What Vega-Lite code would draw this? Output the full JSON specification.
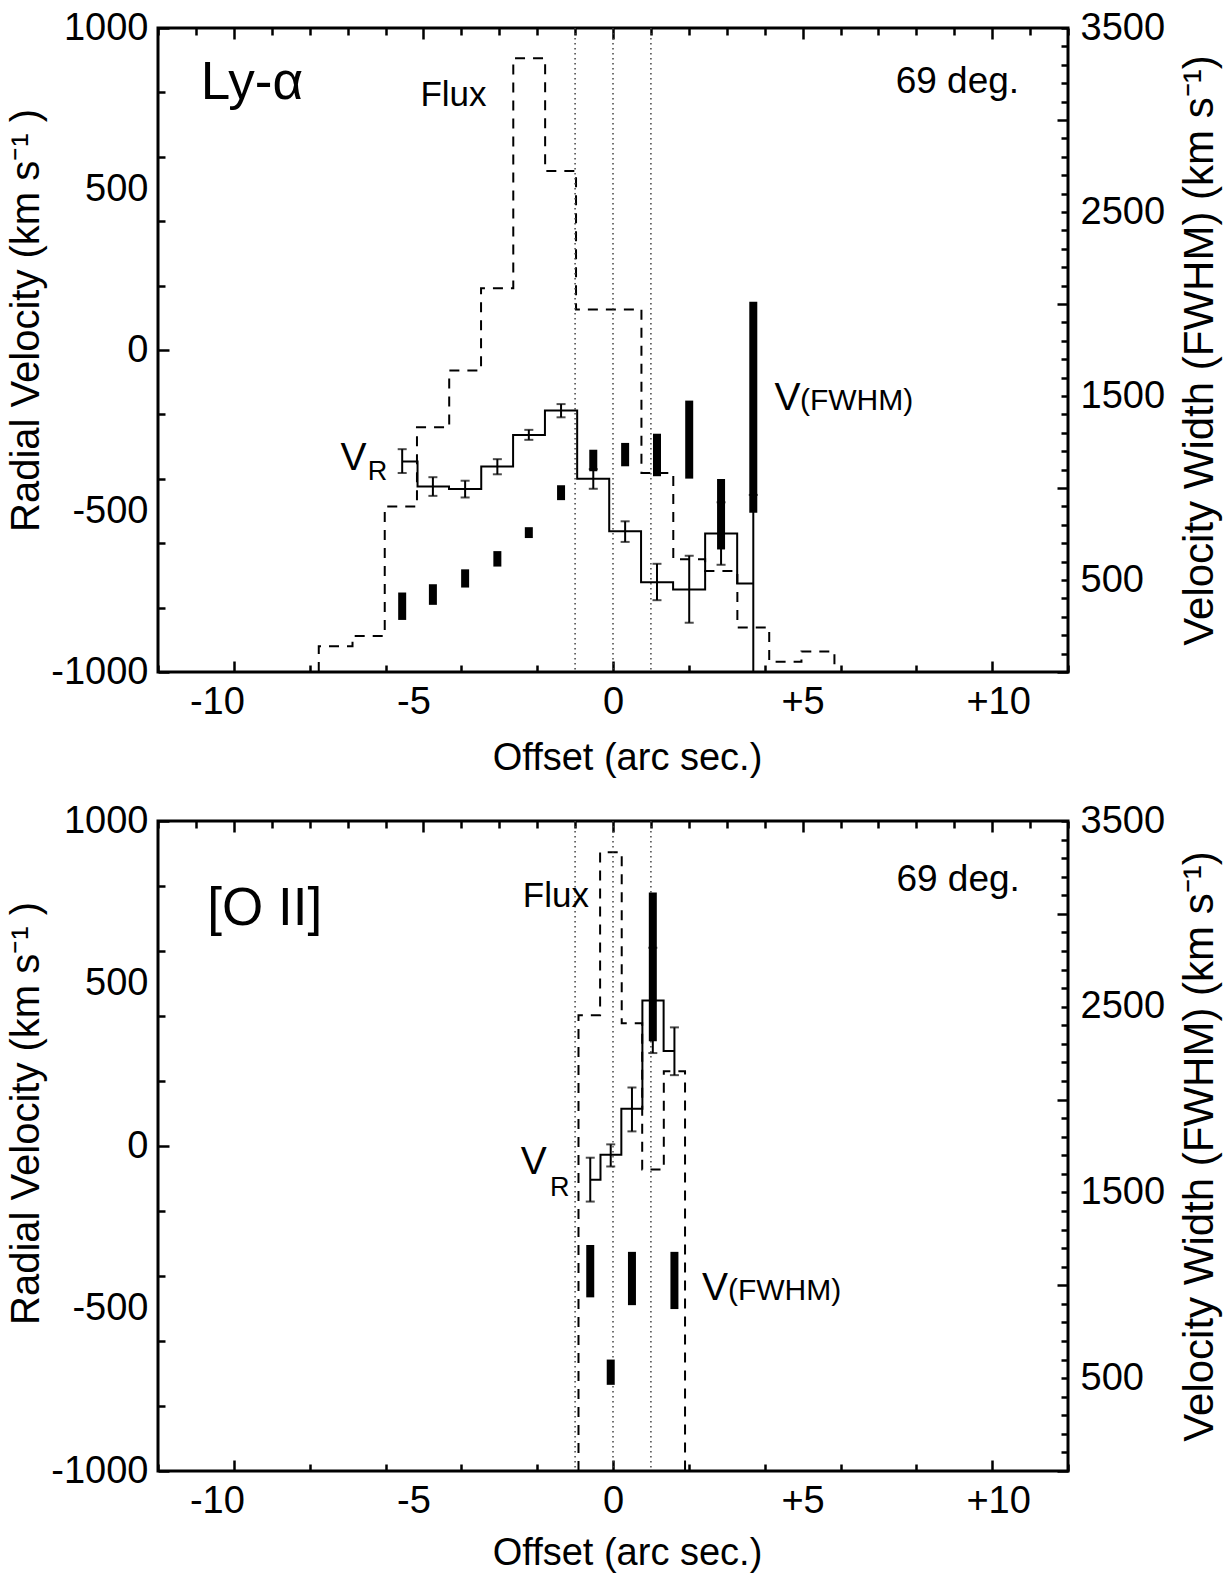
{
  "$schema": "https://vega.github.io/schema/vega-lite/v6.json",
  "background": "white",
  "padding": {"left": 5, "top": 7, "right": 5, "bottom": 3},
  "spacing": 21,
  "config": {
    "font": "Liberation Sans",
    "view": {"stroke": "black", "strokeWidth": 3},
    "axis": {
      "grid": false, "domain": false, "tickColor": "black", "tickWidth": 2.5,
      "labelColor": "black", "titleColor": "black",
      "labelFont": "Liberation Sans", "titleFont": "Liberation Sans",
      "labelFontSize": 38, "titleFontSize": 38, "titleFontWeight": "normal",
      "labelOverlap": false, "labelBound": false, "labelFlush": false
    },
    "text": {"color": "black", "font": "Liberation Sans", "baseline": "alphabetic", "align": "left"}
  },
  "datasets": {
    "dotted": [{"x": -1}, {"x": 0}, {"x": 1}],
    "lya_vr": [
      {"x": -5.56, "vr": -346, "lo": -382, "hi": -308},
      {"x": -4.75, "vr": -424, "lo": -453, "hi": -395},
      {"x": -3.90, "vr": -432, "lo": -458, "hi": -406},
      {"x": -3.05, "vr": -362, "lo": -386, "hi": -339},
      {"x": -2.22, "vr": -264, "lo": -279, "hi": -248},
      {"x": -1.37, "vr": -188, "lo": -209, "hi": -168},
      {"x": -0.52, "vr": -400, "lo": -431, "hi": -370},
      {"x": 0.32, "vr": -563, "lo": -596, "hi": -532},
      {"x": 1.16, "vr": -721, "lo": -777, "hi": -664},
      {"x": 2.01, "vr": -744, "lo": -847, "hi": -639},
      {"x": 2.85, "vr": -570, "lo": -667, "hi": -473},
      {"x": 3.70, "vr": -725, "lo": -1000, "hi": -450}
    ],
    "lya_fwhm": [
      {"x": -5.56, "lo": 283, "hi": 432},
      {"x": -4.75, "lo": 365, "hi": 477},
      {"x": -3.90, "lo": 459, "hi": 558},
      {"x": -3.05, "lo": 573, "hi": 657},
      {"x": -2.22, "lo": 728, "hi": 787},
      {"x": -1.37, "lo": 934, "hi": 1015},
      {"x": -0.52, "lo": 1091, "hi": 1208},
      {"x": 0.32, "lo": 1118, "hi": 1245},
      {"x": 1.16, "lo": 1064, "hi": 1295},
      {"x": 2.01, "lo": 1051, "hi": 1475},
      {"x": 2.85, "lo": 666, "hi": 1049},
      {"x": 3.70, "lo": 865, "hi": 2012}
    ],
    "lya_flux": [
      {"x": -7.76, "flux": 0},
      {"x": -7.76, "flux": 4.0},
      {"x": -6.87, "flux": 5.6},
      {"x": -6.02, "flux": 25.7},
      {"x": -5.17, "flux": 38.0},
      {"x": -4.32, "flux": 46.8},
      {"x": -3.48, "flux": 59.6},
      {"x": -2.63, "flux": 95.3},
      {"x": -1.79, "flux": 77.8},
      {"x": -0.975, "flux": 56.3},
      {"x": 0.75, "flux": 30.9},
      {"x": 1.59, "flux": 17.5},
      {"x": 2.43, "flux": 15.7},
      {"x": 3.28, "flux": 6.9},
      {"x": 4.12, "flux": 1.6},
      {"x": 4.97, "flux": 3.2},
      {"x": 5.84, "flux": 0}
    ],
    "lya_text": [
      {"x": -10.87, "y": 780, "text": "Ly-α", "role": "name"},
      {"x": 10.71, "y": 797, "text": "69 deg.", "role": "angle"},
      {"x": -5.08, "y": 757, "text": "Flux", "role": "flux"},
      {"x": -7.19, "y": -372, "text": "V", "role": "v"},
      {"x": -6.47, "y": -403, "text": "R", "role": "sub"},
      {"x": 4.26, "y": -185, "text": "V", "role": "v"},
      {"x": 4.93, "y": -185, "text": "(FWHM)", "role": "sub2"}
    ],
    "oii_vr": [
      {"x": -0.60, "vr": -104, "lo": -171, "hi": -36},
      {"x": -0.06, "vr": -27, "lo": -63, "hi": 5},
      {"x": 0.50, "vr": 115, "lo": 45, "hi": 180},
      {"x": 1.05, "vr": 448, "lo": 286, "hi": 610},
      {"x": 1.62, "vr": 292, "lo": 218, "hi": 365}
    ],
    "oii_fwhm": [
      {"x": -0.60, "lo": 935, "hi": 1217},
      {"x": -0.06, "lo": 464, "hi": 600},
      {"x": 0.50, "lo": 893, "hi": 1180},
      {"x": 1.05, "lo": 2314, "hi": 3115},
      {"x": 1.62, "lo": 872, "hi": 1180}
    ],
    "oii_flux": [
      {"x": -0.91, "flux": 0},
      {"x": -0.91, "flux": 70.1},
      {"x": -0.34, "flux": 95.2},
      {"x": 0.23, "flux": 68.9},
      {"x": 0.77, "flux": 46.4},
      {"x": 1.34, "flux": 61.5},
      {"x": 1.90, "flux": 0}
    ],
    "oii_text": [
      {"x": -10.7, "y": 681, "text": "[O II]", "role": "name"},
      {"x": 10.73, "y": 784, "text": "69 deg.", "role": "angle"},
      {"x": -2.38, "y": 734, "text": "Flux", "role": "flux"},
      {"x": -2.43, "y": -87, "text": "V", "role": "v"},
      {"x": -1.66, "y": -155, "text": "R", "role": "sub"},
      {"x": 2.35, "y": -475, "text": "V", "role": "v"},
      {"x": 3.03, "y": -475, "text": "(FWHM)", "role": "sub2"}
    ]
  },
  "vconcat": [
    {
      "width": 910, "height": 644,
      "resolve": {"scale": {"y": "independent"}, "axis": {"x": "independent", "y": "independent"}},
      "layer": [
        {
          "data": {"name": "lya_flux"},
          "mark": {"type": "line", "interpolate": "step-after", "color": "black", "strokeWidth": 2, "strokeDash": [10, 8]},
          "encoding": {
            "x": {"field": "x", "type": "quantitative", "scale": {"domain": [-12, 12], "nice": false, "zero": false}, "axis": null},
            "y": {"field": "flux", "type": "quantitative", "scale": {"domain": [0, 100], "nice": false}, "axis": null},
            "order": {"value": null}
          }
        },
        {
          "layer": [
            {
              "data": {"name": "dotted"},
              "mark": {"type": "rule", "color": "#444444", "strokeWidth": 1.5, "strokeDash": [1.5, 3.5]},
              "encoding": {
                "x": {"field": "x", "type": "quantitative", "scale": {"domain": [-12, 12], "nice": false, "zero": false},
                  "axis": {"orient": "bottom", "title": null, "labels": false,
                    "values": [-12,-11,-10,-9,-8,-7,-6,-5,-4,-3,-2,-1,0,1,2,3,4,5,6,7,8,9,10,11,12],
                    "tickSize": {"condition": {"test": "datum.value % 5 === 0", "value": -11}, "value": -7}}}
              }
            },
            {
              "data": {"name": "lya_vr"},
              "mark": {"type": "line", "interpolate": "step", "color": "black", "strokeWidth": 2},
              "encoding": {
                "x": {"field": "x", "type": "quantitative"},
                "y": {"field": "vr", "type": "quantitative", "scale": {"domain": [-1000, 1000], "nice": false, "zero": false},
                  "axis": {"orient": "left", "title": null, "labels": false,
                    "values": [-1000,-900,-800,-700,-600,-500,-400,-300,-200,-100,0,100,200,300,400,500,600,700,800,900,1000],
                    "tickSize": {"condition": {"test": "datum.value % 500 === 0", "value": -11}, "value": -7}}}
              }
            },
            {
              "data": {"name": "lya_vr"},
              "mark": {"type": "rule", "color": "black", "strokeWidth": 2},
              "encoding": {"x": {"field": "x", "type": "quantitative"}, "y": {"field": "lo", "type": "quantitative"}, "y2": {"field": "hi"}}
            },
            {
              "data": {"name": "lya_vr"},
              "mark": {"type": "tick", "orient": "horizontal", "size": 9, "thickness": 2, "color": "black"},
              "encoding": {"x": {"field": "x", "type": "quantitative"}, "y": {"field": "lo", "type": "quantitative"}}
            },
            {
              "data": {"name": "lya_vr"},
              "mark": {"type": "tick", "orient": "horizontal", "size": 9, "thickness": 2, "color": "black"},
              "encoding": {"x": {"field": "x", "type": "quantitative"}, "y": {"field": "hi", "type": "quantitative"}}
            },
            {
              "data": {"name": "lya_text"}, "transform": [{"filter": "datum.role === 'name'"}],
              "mark": {"type": "text", "fontSize": 53},
              "encoding": {"x": {"field": "x", "type": "quantitative"}, "y": {"field": "y", "type": "quantitative"}, "text": {"field": "text", "type": "nominal"}}
            },
            {
              "data": {"name": "lya_text"}, "transform": [{"filter": "datum.role === 'flux'"}],
              "mark": {"type": "text", "fontSize": 35},
              "encoding": {"x": {"field": "x", "type": "quantitative"}, "y": {"field": "y", "type": "quantitative"}, "text": {"field": "text", "type": "nominal"}}
            },
            {
              "data": {"name": "lya_text"}, "transform": [{"filter": "datum.role === 'v'"}],
              "mark": {"type": "text", "fontSize": 39},
              "encoding": {"x": {"field": "x", "type": "quantitative"}, "y": {"field": "y", "type": "quantitative"}, "text": {"field": "text", "type": "nominal"}}
            },
            {
              "data": {"name": "lya_text"}, "transform": [{"filter": "datum.role === 'sub'"}],
              "mark": {"type": "text", "fontSize": 27},
              "encoding": {"x": {"field": "x", "type": "quantitative"}, "y": {"field": "y", "type": "quantitative"}, "text": {"field": "text", "type": "nominal"}}
            },
            {
              "data": {"name": "lya_text"}, "transform": [{"filter": "datum.role === 'sub2'"}],
              "mark": {"type": "text", "fontSize": 30},
              "encoding": {"x": {"field": "x", "type": "quantitative"}, "y": {"field": "y", "type": "quantitative"}, "text": {"field": "text", "type": "nominal"}}
            },
            {
              "data": {"name": "lya_text"}, "transform": [{"filter": "datum.role === 'angle'"}],
              "mark": {"type": "text", "align": "right", "fontSize": 37},
              "encoding": {"x": {"field": "x", "type": "quantitative"}, "y": {"field": "y", "type": "quantitative"}, "text": {"field": "text", "type": "nominal"}}
            }
          ]
        },
        {
          "data": {"name": "lya_fwhm"},
          "mark": {"type": "rule", "color": "black", "strokeWidth": 8, "strokeCap": "butt"},
          "encoding": {
            "x": {"field": "x", "type": "quantitative", "scale": {"domain": [-12, 12], "nice": false, "zero": false},
              "axis": {"orient": "top", "labels": false, "title": null,
                "values": [-12,-11,-10,-9,-8,-7,-6,-5,-4,-3,-2,-1,0,1,2,3,4,5,6,7,8,9,10,11,12],
                "tickSize": {"condition": {"test": "datum.value % 5 === 0", "value": -11}, "value": -7}}},
            "y": {"field": "lo", "type": "quantitative", "scale": {"domain": [0, 3500], "nice": false, "zero": false},
              "axis": {"orient": "right", "title": "Velocity Width (FWHM) (km s⁻¹)", "labelOverlap": false,
                "values": [0,100,200,300,400,500,600,700,800,900,1000,1100,1200,1300,1400,1500,1600,1700,1800,1900,2000,2100,2200,2300,2400,2500,2600,2700,2800,2900,3000,3100,3200,3300,3400,3500],
                "tickSize": {"condition": {"test": "datum.value % 1000 === 0", "value": -11}, "value": -7},
                "labelExpr": "datum.value % 1000 === 500 ? '' + datum.value : ''",
                "labelPadding": 19, "titleAngle": 270, "titleBaseline": "top", "titlePadding": 15, "titleFontSize": 42}},
            "y2": {"field": "hi"}
          }
        },
        {
          "data": {"name": "lya_vr"},
          "mark": {"type": "point", "opacity": 0},
          "encoding": {
            "x": {"field": "x", "type": "quantitative", "scale": {"domain": [-12, 12], "nice": false, "zero": false},
              "axis": {"orient": "bottom", "title": "Offset (arc sec.)", "ticks": false,
                "values": [-10, -5, 0, 5, 10],
                "labelOffset": {"condition": [{"test": "datum.value === -10", "value": -17}, {"test": "datum.value === -5", "value": -10}, {"test": "datum.value === 10", "value": 6}], "value": 0},
                "labelExpr": "datum.value > 0 ? '+' + datum.value : '' + datum.value",
                "labelPadding": 11, "titlePadding": 18, "titleX": 469}},
            "y": {"field": "vr", "type": "quantitative", "scale": {"domain": [-1000, 1000], "nice": false, "zero": false},
              "axis": {"orient": "left", "title": "Radial Velocity (km s⁻¹ )", "ticks": false,
                "values": [-1000, -500, 0, 500, 1000],
                "labelExpr": "'' + datum.value",
                "labelPadding": 10, "titlePadding": 4, "titleY": 292, "titleFontSize": 40}}
          }
        }
      ]
    },
    {
      "width": 910, "height": 650,
      "resolve": {"scale": {"y": "independent"}, "axis": {"x": "independent", "y": "independent"}},
      "layer": [
        {
          "data": {"name": "oii_flux"},
          "mark": {"type": "line", "interpolate": "step-after", "color": "black", "strokeWidth": 2, "strokeDash": [10, 8]},
          "encoding": {
            "x": {"field": "x", "type": "quantitative", "scale": {"domain": [-12, 12], "nice": false, "zero": false}, "axis": null},
            "y": {"field": "flux", "type": "quantitative", "scale": {"domain": [0, 100], "nice": false}, "axis": null},
            "order": {"value": null}
          }
        },
        {
          "layer": [
            {
              "data": {"name": "dotted"},
              "mark": {"type": "rule", "color": "#444444", "strokeWidth": 1.5, "strokeDash": [1.5, 3.5]},
              "encoding": {
                "x": {"field": "x", "type": "quantitative", "scale": {"domain": [-12, 12], "nice": false, "zero": false},
                  "axis": {"orient": "bottom", "title": null, "labels": false,
                    "values": [-12,-11,-10,-9,-8,-7,-6,-5,-4,-3,-2,-1,0,1,2,3,4,5,6,7,8,9,10,11,12],
                    "tickSize": {"condition": {"test": "datum.value % 5 === 0", "value": -11}, "value": -7}}}
              }
            },
            {
              "data": {"name": "oii_vr"},
              "mark": {"type": "line", "interpolate": "step", "color": "black", "strokeWidth": 2},
              "encoding": {
                "x": {"field": "x", "type": "quantitative"},
                "y": {"field": "vr", "type": "quantitative", "scale": {"domain": [-1000, 1000], "nice": false, "zero": false},
                  "axis": {"orient": "left", "title": null, "labels": false,
                    "values": [-1000,-900,-800,-700,-600,-500,-400,-300,-200,-100,0,100,200,300,400,500,600,700,800,900,1000],
                    "tickSize": {"condition": {"test": "datum.value % 500 === 0", "value": -11}, "value": -7}}}
              }
            },
            {
              "data": {"name": "oii_vr"},
              "mark": {"type": "rule", "color": "black", "strokeWidth": 2},
              "encoding": {"x": {"field": "x", "type": "quantitative"}, "y": {"field": "lo", "type": "quantitative"}, "y2": {"field": "hi"}}
            },
            {
              "data": {"name": "oii_vr"},
              "mark": {"type": "tick", "orient": "horizontal", "size": 9, "thickness": 2, "color": "black"},
              "encoding": {"x": {"field": "x", "type": "quantitative"}, "y": {"field": "lo", "type": "quantitative"}}
            },
            {
              "data": {"name": "oii_vr"},
              "mark": {"type": "tick", "orient": "horizontal", "size": 9, "thickness": 2, "color": "black"},
              "encoding": {"x": {"field": "x", "type": "quantitative"}, "y": {"field": "hi", "type": "quantitative"}}
            },
            {
              "data": {"name": "oii_text"}, "transform": [{"filter": "datum.role === 'name'"}],
              "mark": {"type": "text", "fontSize": 53},
              "encoding": {"x": {"field": "x", "type": "quantitative"}, "y": {"field": "y", "type": "quantitative"}, "text": {"field": "text", "type": "nominal"}}
            },
            {
              "data": {"name": "oii_text"}, "transform": [{"filter": "datum.role === 'flux'"}],
              "mark": {"type": "text", "fontSize": 35},
              "encoding": {"x": {"field": "x", "type": "quantitative"}, "y": {"field": "y", "type": "quantitative"}, "text": {"field": "text", "type": "nominal"}}
            },
            {
              "data": {"name": "oii_text"}, "transform": [{"filter": "datum.role === 'v'"}],
              "mark": {"type": "text", "fontSize": 39},
              "encoding": {"x": {"field": "x", "type": "quantitative"}, "y": {"field": "y", "type": "quantitative"}, "text": {"field": "text", "type": "nominal"}}
            },
            {
              "data": {"name": "oii_text"}, "transform": [{"filter": "datum.role === 'sub'"}],
              "mark": {"type": "text", "fontSize": 27},
              "encoding": {"x": {"field": "x", "type": "quantitative"}, "y": {"field": "y", "type": "quantitative"}, "text": {"field": "text", "type": "nominal"}}
            },
            {
              "data": {"name": "oii_text"}, "transform": [{"filter": "datum.role === 'sub2'"}],
              "mark": {"type": "text", "fontSize": 30},
              "encoding": {"x": {"field": "x", "type": "quantitative"}, "y": {"field": "y", "type": "quantitative"}, "text": {"field": "text", "type": "nominal"}}
            },
            {
              "data": {"name": "oii_text"}, "transform": [{"filter": "datum.role === 'angle'"}],
              "mark": {"type": "text", "align": "right", "fontSize": 37},
              "encoding": {"x": {"field": "x", "type": "quantitative"}, "y": {"field": "y", "type": "quantitative"}, "text": {"field": "text", "type": "nominal"}}
            }
          ]
        },
        {
          "data": {"name": "oii_fwhm"},
          "mark": {"type": "rule", "color": "black", "strokeWidth": 8, "strokeCap": "butt"},
          "encoding": {
            "x": {"field": "x", "type": "quantitative", "scale": {"domain": [-12, 12], "nice": false, "zero": false},
              "axis": {"orient": "top", "labels": false, "title": null,
                "values": [-12,-11,-10,-9,-8,-7,-6,-5,-4,-3,-2,-1,0,1,2,3,4,5,6,7,8,9,10,11,12],
                "tickSize": {"condition": {"test": "datum.value % 5 === 0", "value": -11}, "value": -7}}},
            "y": {"field": "lo", "type": "quantitative", "scale": {"domain": [0, 3500], "nice": false, "zero": false},
              "axis": {"orient": "right", "title": "Velocity Width (FWHM) (km s⁻¹)", "labelOverlap": false,
                "values": [0,100,200,300,400,500,600,700,800,900,1000,1100,1200,1300,1400,1500,1600,1700,1800,1900,2000,2100,2200,2300,2400,2500,2600,2700,2800,2900,3000,3100,3200,3300,3400,3500],
                "tickSize": {"condition": {"test": "datum.value % 1000 === 0", "value": -11}, "value": -7},
                "labelExpr": "datum.value % 1000 === 500 ? '' + datum.value : ''",
                "labelPadding": 19, "titleAngle": 270, "titleBaseline": "top", "titlePadding": 15, "titleFontSize": 42}},
            "y2": {"field": "hi"}
          }
        },
        {
          "data": {"name": "oii_vr"},
          "mark": {"type": "point", "opacity": 0},
          "encoding": {
            "x": {"field": "x", "type": "quantitative", "scale": {"domain": [-12, 12], "nice": false, "zero": false},
              "axis": {"orient": "bottom", "title": "Offset (arc sec.)", "ticks": false,
                "values": [-10, -5, 0, 5, 10],
                "labelOffset": {"condition": [{"test": "datum.value === -10", "value": -17}, {"test": "datum.value === -5", "value": -10}, {"test": "datum.value === 10", "value": 6}], "value": 0},
                "labelExpr": "datum.value > 0 ? '+' + datum.value : '' + datum.value",
                "labelPadding": 11, "titlePadding": 14, "titleX": 469}},
            "y": {"field": "vr", "type": "quantitative", "scale": {"domain": [-1000, 1000], "nice": false, "zero": false},
              "axis": {"orient": "left", "title": "Radial Velocity (km s⁻¹ )", "ticks": false,
                "values": [-1000, -500, 0, 500, 1000],
                "labelExpr": "'' + datum.value",
                "labelPadding": 10, "titlePadding": 4, "titleY": 292, "titleFontSize": 40}}
          }
        }
      ]
    }
  ]
}
